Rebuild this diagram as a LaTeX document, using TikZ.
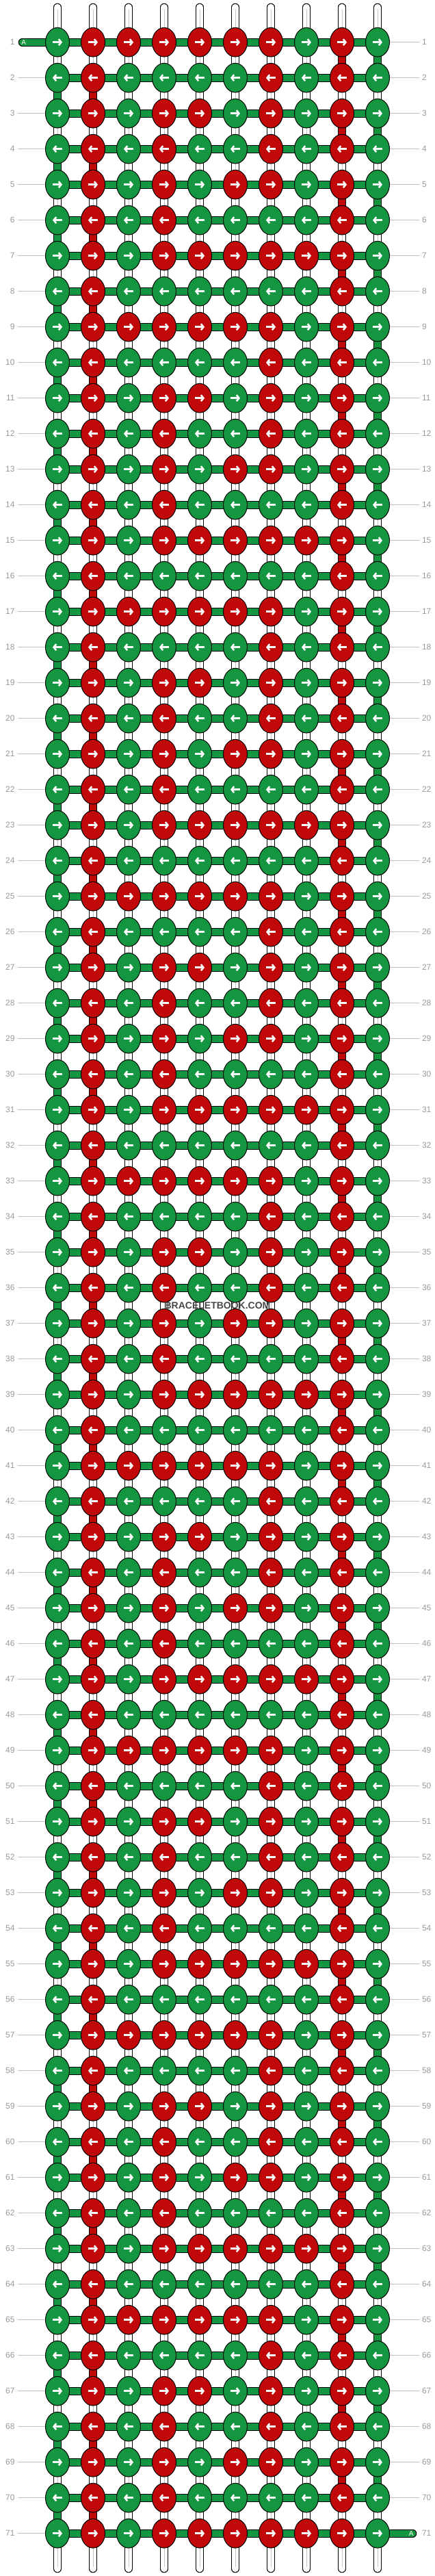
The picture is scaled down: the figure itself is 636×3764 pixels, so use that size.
\documentclass[tikz,border=0pt]{standalone}
\usepackage{fontspec}
\setmainfont{Liberation Sans}
\usetikzlibrary{shapes.geometric,arrows.meta}
\definecolor{kg}{HTML}{13963F}
\definecolor{kr}{HTML}{C00808}
\pgfdeclarelayer{background}
\pgfsetlayers{background,main}
\tikzset{
    knot/.style={
        shape=ellipse,
        draw=black,
        line width=1pt,
        minimum width=35pt,
        minimum height=42.6pt,
        inner sep=0pt
    },
    thread/.style={
        draw=black,
        line width=1pt,
        double=#1,
        double distance=9.6pt
    },
    strand/.style={thread=white, line cap=round},
    rowno/.style={
        font=\fontsize{12}{12}\selectfont,
        text=black!40,
        inner xsep=4pt,
        inner ysep=0pt,
        outer sep=0pt
    },
    guide/.style={draw=black!25, line width=1pt},
    fibre/.style={draw=black!22, line width=0.8pt},
    tog/.style={white, line width=2.6pt, -{Straight Barb[length=3.5pt,width=9pt]}}
}
\expandafter\def\csname pat1\endcsname{kg,kr,kr,kr,kr,kr,kr,kg,kr,kg}
\expandafter\def\csname pat2\endcsname{kg,kr,kg,kg,kg,kg,kr,kg,kr,kg}
\expandafter\def\csname pat3\endcsname{kg,kr,kg,kr,kr,kg,kr,kg,kr,kg}
\expandafter\def\csname pat4\endcsname{kg,kr,kg,kr,kg,kg,kr,kg,kr,kg}
\expandafter\def\csname pat5\endcsname{kg,kr,kg,kr,kg,kr,kr,kg,kr,kg}
\expandafter\def\csname pat6\endcsname{kg,kr,kg,kr,kg,kg,kg,kg,kr,kg}
\expandafter\def\csname pat7\endcsname{kg,kr,kg,kr,kr,kr,kr,kr,kr,kg}
\expandafter\def\csname pat8\endcsname{kg,kr,kg,kg,kg,kg,kg,kg,kr,kg}
\def\whitename{white}

\begin{document}
\begin{tikzpicture}[x=1pt,y=-1pt]
    \useasboundingbox (0,0) rectangle (636,3764);

    % knots, rows 1..71
    \foreach \r in {1,...,71}{
        \pgfmathtruncatemacro\idx{mod(\r-1,8)+1}
        \pgfmathsetmacro\yy{61.7+52*(\r-1)}
        \edef\thepat{\csname pat\idx\endcsname}
        \foreach \col [count=\c] in \thepat{
            \node[knot, fill=\col] (k-\r-\c) at ({84+52*(\c-1)},\yy) {};
            \ifodd\r
                \draw[tog] ([xshift=-7pt]k-\r-\c.center) -- ([xshift=7pt]k-\r-\c.center);
            \else
                \draw[tog] ([xshift=7pt]k-\r-\c.center) -- ([xshift=-7pt]k-\r-\c.center);
            \fi
        }
        \node[rowno, anchor=east] (ll-\r) at (25.5,\yy) {\r};
        \node[rowno, anchor=west] (lr-\r) at (613,\yy) {\r};
        \ifnum\r>1 \draw[guide] (ll-\r) -- (k-\r-1); \fi
        \ifnum\r<71 \draw[guide] (k-\r-10) -- (lr-\r); \fi
    }

    \coordinate (a-start) at (32.5,61.7);
    \coordinate (a-end) at (603.5,3701.7);
    \node[font=\fontsize{10}{10}\selectfont, text=white, inner sep=0pt] (a-in) at (34.7,61.7) {A};
    \node[font=\fontsize{10}{10}\selectfont, text=white, inner sep=0pt] (a-out) at (601.3,3701.7) {A};

    \node[font=\bfseries\fontsize{14}{14}\selectfont, text=black!72, inner sep=1pt] (mark) at (318,1907.7) {BRACELETBOOK.COM};

    \begin{pgfonlayer}{background}
        \draw[thread=kg, line cap=round] (k-1-1.center) -- (a-start);
        \draw[thread=kg, line cap=round] (k-71-10.center) -- (a-end);
        \foreach \c in {1,...,10}{
            \coordinate (top-\c) at ({84+52*(\c-1)},10.5);
            \coordinate (bot-\c) at ({84+52*(\c-1)},3753.5);
            \draw[strand] (k-1-\c.center) -- (top-\c);
            \draw[fibre] (k-1-\c.center) -- ([yshift=-3pt]top-\c);
            \draw[strand] (k-71-\c.center) -- (bot-\c);
            \draw[fibre] (k-71-\c.center) -- ([yshift=3pt]bot-\c);
        }
        \foreach \r in {1,...,71}{
            \foreach \c [evaluate=\c as \n using int(\c+1)] in {1,...,9}{
                \draw[thread=kg] (k-\r-\c.center) -- (k-\r-\n.center);
            }
        }
        \foreach \r [evaluate=\r as \s using int(\r+1)] in {1,...,70}{
            \foreach \c in {1,...,10}{
                \def\segcol{white}
                \ifodd\r
                    \ifnum\c=9 \def\segcol{kr}\fi
                    \ifnum\c=10 \def\segcol{kg}\fi
                \else
                    \ifnum\c=1 \def\segcol{kg}\fi
                    \ifnum\c=2 \def\segcol{kr}\fi
                \fi
                \draw[thread=\segcol] (k-\r-\c.center) -- (k-\s-\c.center);
                \ifx\segcol\whitename
                    \draw[fibre] (k-\r-\c.center) -- (k-\s-\c.center);
                \fi
            }
        }
    \end{pgfonlayer}
\end{tikzpicture}
\end{document}
